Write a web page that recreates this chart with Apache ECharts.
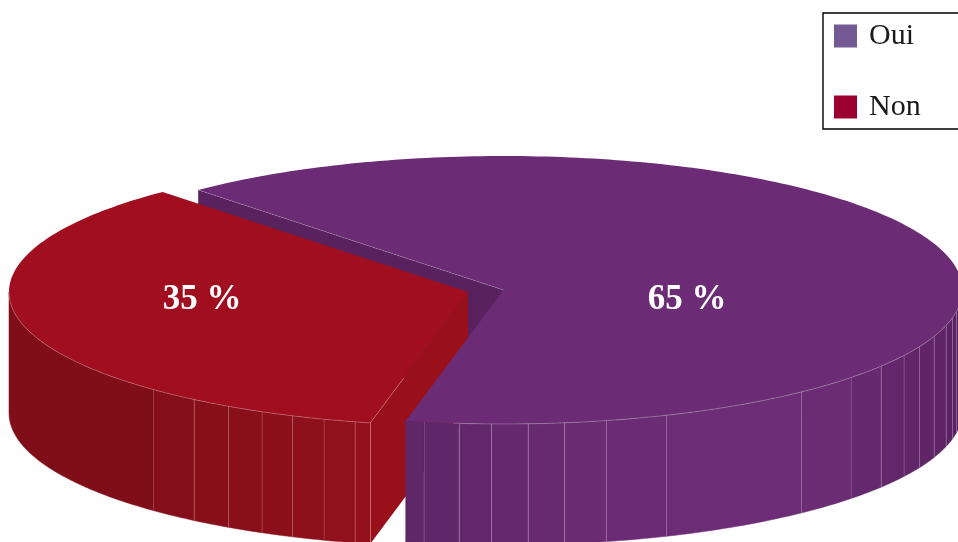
<!DOCTYPE html>
<html>
<head>
<meta charset="utf-8">
<script src="https://cdn.jsdelivr.net/npm/echarts@6/dist/echarts.min.js"></script>
<style>
  html, body { margin: 0; padding: 0; background: #fff; }
  #chart { width: 958px; height: 542px; }
</style>
</head>
<body>
<div id="chart"></div>
<script>
// Survey answers, in percent
const categories = ['Oui', 'Non'];
const values = [65, 35];
const legendColors = ['#735a94', '#9b0030'];
const topColors = ['#6c2c75', '#a00e20'];
const cutColors = ['#58225f', '#99101b'];

// Rim facets of the tilted disc: boundary angles (degrees, clockwise from the right), seam strength and shades
const ouiFacetAngles = [9.3, 12, 15.6, 20.4, 25, 29.3, 34.7, 40.8, 49.6, 69.2, 77.1, 82.4, 87, 91.5, 95.6, 100];
const ouiSeamAlpha = [0.25, 0.25, 0.25, 0.25, 0.25, 0.15, 0.28, 0.15, 0.28, 0.22, 0.28, 0.3, 0.3, 0.3, 0.3, 0.15];
const ouiFacetShades = ['#5a2162', '#5b2263', '#5c2364', '#5e2466', '#5f2567', '#602668', '#62276a', '#65296d',
  '#6b2c73', '#6d2d76', '#6c2c75', '#6a2b72', '#672a6f', '#65296d', '#62276a', '#60266a', '#5f2668'];
const nonFacetAngles = [104.3, 108.3, 112.5, 116.7, 121.5, 126.7, 133.3];
const nonSeamAlpha = [0.2, 0.12, 0.25, 0.15, 0.25, 0.25, 0.15];
const nonFacetShades = ['#92101c', '#90101c', '#8e101c', '#8b101b', '#890f1b', '#870f1a', '#840f1a', '#7f0e19'];
const facetAngles = [ouiFacetAngles, nonFacetAngles];
const seamAlpha = [ouiSeamAlpha, nonSeamAlpha];
const facetShades = [ouiFacetShades, nonFacetShades];

// Disc projection and where each slice sits once pulled apart
const disc = { rx: 459, ry: 134, depth: 121, firstAngle: 228.3 };
const sliceCentres = [[503.5, 290], [468, 292]];
const labelOffsets = [[183.5, 9.5], [-266, 7.5]];

const RAD = Math.PI / 180;
const total = values.reduce((a, b) => a + b, 0);

function sliceSpan(index) {
  const before = values.slice(0, index).reduce((a, b) => a + b, 0);
  const start = disc.firstAngle + before / total * 360;
  return [start, start + values[index] / total * 360];
}

function rimPoint(c, deg, drop) {
  return [c[0] + disc.rx * Math.cos(deg * RAD), c[1] + disc.ry * Math.sin(deg * RAD) + (drop || 0)];
}

function arcPoints(c, from, to, drop) {
  const pts = [];
  const steps = Math.max(2, Math.ceil(Math.abs(to - from)));
  for (let i = 0; i <= steps; i++) {
    pts.push(rimPoint(c, from + (to - from) * i / steps, drop));
  }
  return pts;
}

function hairline(alpha) {
  return 'rgba(255,255,255,' + alpha + ')';
}

function renderSlice(params, api) {
  const i = params.seriesIndex;
  const value = api.value(0);
  const c = sliceCentres[i];
  const [start, end] = sliceSpan(i);
  const children = [];
  // Layering: Oui's cut face at the back, then the whole Non slice, then Oui's wall and top
  const base = i === 0 ? 20 : 10;

  // Cut face running from the rim to the axis of the disc
  const corner = rimPoint(c, start);
  children.push({
    type: 'polygon', z2: i === 0 ? 1 : base,
    shape: { points: [corner, c, [c[0], c[1] + disc.depth], [corner[0], corner[1] + disc.depth]] },
    style: { fill: cutColors[i] }, silent: true
  });

  // Front wall, split into facets over the visible half of the disc
  const normEnd = end % 360;
  const normStart = start % 360;
  const lo = normStart > 180 ? 0 : normStart;
  const hi = Math.min(180, normEnd);
  const inner = facetAngles[i].filter(d => d > lo && d < hi);
  const edges = [lo].concat(inner, [hi]);
  edges.slice(0, -1).forEach(function (a0, k) {
    const a1 = edges[k + 1];
    children.push({
      type: 'polygon', z2: base + 2,
      shape: { points: arcPoints(c, a0, a1, 0).concat(arcPoints(c, a1, a0, disc.depth)) },
      style: { fill: facetShades[i][k], stroke: facetShades[i][k], lineWidth: 0.5 }, silent: true
    });
  });
  facetAngles[i].forEach(function (deg, k) {
    if (deg <= lo || deg >= hi) return;
    const p = rimPoint(c, deg);
    const x = Math.round(p[0]) + 0.5;
    children.push({
      type: 'line', z2: base + 3,
      shape: { x1: x, y1: p[1], x2: x, y2: p[1] + disc.depth },
      style: { stroke: hairline(seamAlpha[i][k]), lineWidth: 1 }, silent: true
    });
  });

  // Top face
  children.push({
    type: 'polygon', z2: base + 4,
    shape: { points: [c].concat(arcPoints(c, start, end, 0)) },
    style: { fill: topColors[i] }, silent: true
  });

  // Fine highlights along the rim and the cut edges
  children.push({
    type: 'polyline', z2: base + 5,
    shape: { points: arcPoints(c, lo, i === 0 ? hi - 6 : hi, 0) },
    style: { fill: null, stroke: hairline(0.3), lineWidth: 0.8 }, silent: true
  });
  if (i === 0) {
    children.push({
      type: 'line', z2: base + 5,
      shape: { x1: corner[0], y1: corner[1], x2: c[0], y2: c[1] },
      style: { stroke: hairline(0.2), lineWidth: 0.8 }, silent: true
    });
  } else {
    const near = rimPoint(c, start);
    const xEdge = Math.round(near[0]) + 0.5;
    children.push({
      type: 'line', z2: base + 5,
      shape: { x1: xEdge, y1: near[1], x2: xEdge, y2: near[1] + disc.depth },
      style: { stroke: hairline(0.28), lineWidth: 1 }, silent: true
    });
    children.push({
      type: 'line', z2: base + 5,
      shape: { x1: near[0], y1: near[1], x2: near[0] + (c[0] - near[0]) * 0.34, y2: near[1] + (c[1] - near[1]) * 0.34 },
      style: { stroke: hairline(0.25), lineWidth: 0.8 }, silent: true
    });
  }

  // Value label
  children.push({
    type: 'text', z2: 40,
    style: {
      text: value + ' %',
      x: c[0] + labelOffsets[i][0], y: c[1] + labelOffsets[i][1],
      fill: '#ffffff',
      font: 'bold 35px "Liberation Serif", serif',
      align: 'center', verticalAlign: 'middle'
    },
    silent: true
  });

  return { type: 'group', children: children };
}

const chart = echarts.init(document.getElementById('chart'), null, { renderer: 'canvas' });
chart.setOption({
  animation: false,
  backgroundColor: '#ffffff',
  legend: {
    orient: 'vertical',
    left: 823,
    top: 13,
    padding: [8, 60, 7, 11],
    itemWidth: 23,
    itemHeight: 23,
    itemGap: 41,
    selectedMode: false,
    borderColor: '#000000',
    borderWidth: 1.4,
    data: categories.map((name, i) => ({ name: name, icon: 'rect', itemStyle: { color: legendColors[i] } })),
    textStyle: { fontFamily: '"Liberation Serif", serif', fontSize: 30, color: '#1a1a1a', padding: [3, 0, 0, 7] }
  },
  series: categories.map((name, i) => ({
    type: 'custom',
    name: name,
    coordinateSystem: 'none',
    clip: false,
    silent: true,
    itemStyle: { color: legendColors[i] },
    renderItem: renderSlice,
    data: [[values[i]]]
  }))
});
</script>
</body>
</html>
